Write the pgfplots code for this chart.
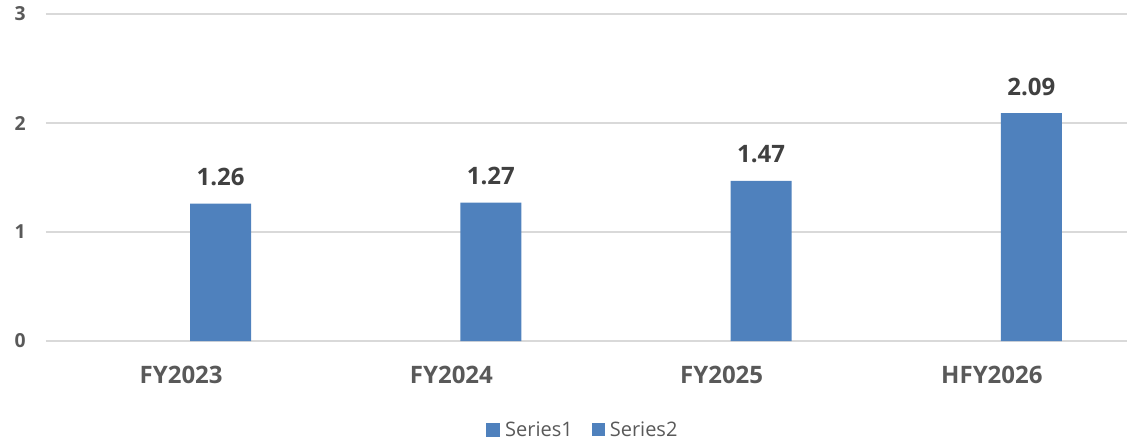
\documentclass[border=0pt]{standalone}
\usepackage{pgfplots}
\pgfplotsset{compat=1.18}
\usepackage{fontspec}
\setmainfont{Open Sans}
\definecolor{barblue}{HTML}{4F81BD}
\definecolor{gridgray}{HTML}{D9D9D9}
\definecolor{ticktext}{HTML}{595959}
\definecolor{labeltext}{HTML}{404040}
\begin{document}
\begin{tikzpicture}[x=1pt,y=1pt]
\begin{axis}[
  at={(0pt,0pt)}, anchor=south west,
  scale only axis,
  width=810.75pt, height=245.25pt,
  xmin=-0.5, xmax=3.5,
  ymin=0, ymax=3,
  axis line style={draw=none},
  ytick={0,1,2,3},
  xtick={0,1,2,3},
  xticklabels={FY2023,FY2024,FY2025,HFY2026},
  ymajorgrids,
  grid style={gridgray, line width=1.1pt},
  major tick length=0pt,
  /pgf/number format/assume math mode=true,
  yticklabel style={font=\fontsize{14.5}{16}\selectfont\bfseries, text=ticktext, anchor=west, xshift=-34.5pt+7.5pt},
  xticklabel style={font=\fontsize{18}{20}\selectfont\bfseries, text=ticktext, anchor=base, yshift=-32pt},
  ybar,
  bar width=45.75pt,
  legend style={draw=none, fill=none, at={(axis description cs:0.497,-0.272)}, anchor=center,
    legend columns=2, font=\fontsize{15}{17}\selectfont, text=ticktext,
    /tikz/every odd column/.append style={column sep=2pt},
    /tikz/every even column/.append style={column sep=12pt}},
  legend image code/.code={\fill[barblue] (0pt,-4.9pt) rectangle (9.75pt,4.9pt);},
  clip=false,
]
\addlegendimage{barblue}
\addlegendentry{Series1}
\addplot[fill=barblue, draw=none, bar shift=29.6pt,
  nodes near coords,
  every node near coord/.style={font=\fontsize{18}{20}\selectfont\bfseries, text=labeltext, anchor=base, inner sep=0pt, xshift=29.6pt, yshift=13.5pt},
  /pgf/number format/.cd, fixed, fixed zerofill, precision=2]
  coordinates {(0,1.26) (1,1.27) (2,1.47) (3,2.09)};
\addlegendentry{Series2}
\end{axis}
\pgfresetboundingbox
\path (-34.5pt,255.75pt) rectangle (810.75pt,-76.5pt);
\end{tikzpicture}
\end{document}
